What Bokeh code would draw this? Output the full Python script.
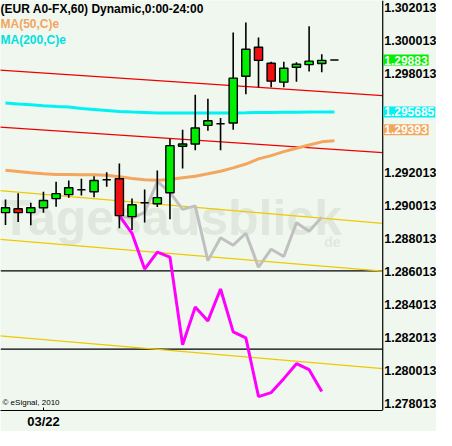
from bokeh.plotting import figure
from bokeh.models import Range1d, FixedTicker, Label, Span, ColumnDataSource
from bokeh.core.properties import value
from bokeh.embed import file_html
from bokeh.resources import INLINE

# ---------------- data ----------------
idx = list(range(27))
opens = [1.28958, 1.28982, 1.28958, 1.28988, 1.29043, 1.29067, 1.29097, 1.29085, 1.29157,
         1.29163, 1.28934, 1.29018, 1.29012, 1.29079, 1.29360, 1.29374, 1.29487, 1.29497,
         1.29501, 1.29785, 1.29960, 1.29863, 1.29749, 1.29839, 1.29855, 1.29862, 1.29883]
highs = [1.29038, 1.29075, 1.29018, 1.29085, 1.29145, 1.29153, 1.29163, 1.29179, 1.29203,
         1.29256, 1.29043, 1.29099, 1.29213, 1.29406, 1.29461, 1.29672, 1.29648, 1.29531,
         1.30050, 1.30111, 1.30020, 1.29873, 1.29873, 1.29869, 1.30088, 1.29918, 1.29883]
lows = [1.28883, 1.28901, 1.28881, 1.28958, 1.28994, 1.29049, 1.29062, 1.29052, 1.29115,
        1.28863, 1.28853, 1.28898, 1.28992, 1.28918, 1.29225, 1.29336, 1.29455, 1.29336,
        1.29461, 1.29676, 1.29718, 1.29718, 1.29718, 1.29752, 1.29813, 1.29809, 1.29883]
closes = [1.28988, 1.28958, 1.28988, 1.29032, 1.29073, 1.29109, 1.29097, 1.29153, 1.29157,
          1.28940, 1.29006, 1.29018, 1.29049, 1.29364, 1.29374, 1.29471, 1.29515, 1.29497,
          1.29773, 1.29948, 1.29881, 1.29755, 1.29833, 1.29857, 1.29876, 1.29881, 1.29883]

ma50 = [1.292151, 1.292073, 1.291994, 1.291934, 1.291892, 1.291892, 1.291874, 1.291874,
        1.291850, 1.291753, 1.291650, 1.291572, 1.291548, 1.291590, 1.291693, 1.291789,
        1.291934, 1.292091, 1.292296, 1.292525, 1.292839, 1.293038, 1.293280, 1.293479,
        1.293684, 1.293870, 1.293930]
ma200 = [1.296219, 1.296158, 1.296116, 1.296056, 1.296014, 1.295977, 1.295893, 1.295833,
         1.295772, 1.295712, 1.295676, 1.295652, 1.295615, 1.295615, 1.295615, 1.295615,
         1.295615, 1.295615, 1.295615, 1.295633, 1.295652, 1.295652, 1.295660, 1.295668,
         1.295675, 1.295680, 1.295685]

proj_idx = list(range(9, 26))
gray_proj = [1.289400, 1.289236, 1.289598, 1.291469, 1.290805, 1.289779, 1.289991, 1.286671,
             1.288060, 1.287607, 1.288331, 1.286279, 1.287365, 1.286925, 1.288965, 1.288452,
             1.289297]
magenta_proj = [1.289400, 1.288331, 1.286158, 1.287184, 1.286883, 1.281572, 1.283865, 1.283020,
                1.284951, 1.282356, 1.281994, 1.278434, 1.278675, 1.279520, 1.280425, 1.280063,
                1.278735]

# trend lines: price at bar index trend_x[0] and trend_x[1] (right end = price axis)
trend_x = [-0.56, 29.82]
red_upper = [1.298229, 1.296671]
red_lower = [1.294770, 1.293213]
yellow_upper = [1.290926, 1.288935]
yellow_mid = [1.287969, 1.286038]
yellow_low = [1.282115, 1.280123]
black_levels = [1.28605, 1.28131]

y_ticks = [1.278013, 1.280013, 1.282013, 1.284013, 1.286013, 1.288013, 1.290013,
           1.292013, 1.294013, 1.296013, 1.298013, 1.300013, 1.302013]
y_tick_labels = ["1.278013", "1.280013", "1.282013", "1.284013", "1.286013", "1.288013",
                 "1.290013", "1.292013", "", "", "1.298013", "1.300013", "1.302013"]
x_ticks = [3]
x_tick_labels = {3: "03/22"}
last_price = 1.29883
ma200_last = 1.295685
ma50_last = 1.29393

title_text = "(EUR A0-FX,60) Dynamic,0:00-24:00"
legend_ma50 = "MA(50,C)e"
legend_ma200 = "MA(200,C)e"

# ---------------- figure ----------------
BG = "#F0F7EF"
FONT = "Liberation Sans"
GREEN, RED, CYAN, ORANGE, YELLOW = "#00EE00", "#EE1111", "#00F2F2", "#F2A65E", "#EEC900"
x_lo, x_hi = -0.395, 34.07
axis_x = trend_x[1]
p = figure(frame_width=436, frame_height=410, x_range=Range1d(x_lo, x_hi),
           y_range=Range1d(1.277589, 1.302437), y_axis_location=None,
           output_backend="svg", toolbar_location=None,
           min_border_left=0, min_border_top=0, min_border_right=0, min_border_bottom=0,
           background_fill_color=BG, border_fill_color=BG, outline_line_color=None)
p.grid.visible = False

xa = p.xaxis[0]
xa.bounds = (x_lo, axis_x)
xa.ticker = FixedTicker(ticks=x_ticks)
xa.major_label_overrides = x_tick_labels
xa.major_label_text_font = FONT
xa.major_label_text_font_style = "bold"
xa.major_label_text_font_size = "13px"
xa.major_label_text_color = "black"
xa.major_tick_in = 3
xa.major_tick_out = 0
xa.minor_tick_in = 0
xa.minor_tick_out = 0
xa.major_label_standoff = 3
xa.axis_line_color = "black"

# watermark
p.add_layout(Label(x=-0.35, y=1.28925, text="Tagesausblick", text_font=FONT,
                   text_font_style="bold", text_font_size="50px", text_color="#CFDACB",
                   text_alpha=0.5, text_baseline="middle", level="underlay"))
p.add_layout(Label(x=25.2, y=1.28778, text="de", text_font=FONT, text_font_style="bold",
                   text_font_size="14px", text_color="#CFDACB", text_alpha=0.5,
                   text_baseline="middle", level="underlay"))

# price axis (drawn at the right edge of the chart area)
p.add_layout(Span(location=axis_x, dimension="height", line_color="black", line_width=1.2))
p.text(x=[axis_x] * len(y_ticks), y=y_ticks, text=y_tick_labels, x_offset=1.5,
       text_font=value(FONT), text_font_style="bold", text_font_size="12.5px",
       text_color="black", text_align="left", text_baseline="middle")

# horizontal levels
for lv in black_levels:
    p.line([x_lo, axis_x], [lv, lv], line_color="black", line_width=1.2)

for ln in (yellow_upper, yellow_mid, yellow_low):
    p.line(trend_x, ln, line_color=YELLOW, line_width=1.2)
for ln in (red_upper, red_lower):
    p.line(trend_x, ln, line_color="#EE0000", line_width=1.2)

p.line(idx, ma200, line_color=CYAN, line_width=3)
p.line(idx, ma50, line_color=ORANGE, line_width=3)

p.line(proj_idx, gray_proj, line_color="#C0C0C0", line_width=3)
p.line(proj_idx, magenta_proj, line_color="#FF00FF", line_width=3)

# candles
colors = [GREEN if c > o else (RED if c < o else "black") for o, c in zip(opens, closes)]
src = ColumnDataSource(dict(x=idx, o=opens, h=highs, l=lows, c=closes,
                            top=[max(o, c) for o, c in zip(opens, closes)],
                            bottom=[min(o, c) for o, c in zip(opens, closes)],
                            color=colors))
p.segment(x0="x", y0="h", x1="x", y1="l", source=src, line_color="black", line_width=1.6)
p.vbar(x="x", top="top", bottom="bottom", width=0.65, source=src, fill_color="color",
       line_color="black", line_width=1.4)

# header texts
for i, (txt, col) in enumerate(((title_text, "black"), (legend_ma50, ORANGE),
                                (legend_ma200, "#00E0E0"))):
    p.add_layout(Label(x=x_lo, y=p.y_range.end, x_offset=0, y_offset=-1 - 15.5 * i,
                       text=txt, text_color=col, text_font=FONT, text_font_style="bold",
                       text_font_size="12px", text_baseline="top"))

p.add_layout(Label(x=x_lo, y=p.y_range.start, x_offset=2, y_offset=4,
                   text="\u00a9 eSignal, 2010", text_font=FONT, text_font_size="8px",
                   text_color="black", text_baseline="bottom"))

# value boxes on the price axis
for val, col, off in ((last_price, GREEN, 0), (ma200_last, CYAN, 0), (ma50_last, ORANGE, 11)):
    p.add_layout(Label(x=axis_x, y=val, x_offset=0.5, y_offset=off, text=str(val),
                       text_color="white", text_font=FONT, text_font_style="bold",
                       text_font_size="12px", text_baseline="middle",
                       background_fill_color=col, padding=1))

open("out.html", "w").write(file_html(p, INLINE))
